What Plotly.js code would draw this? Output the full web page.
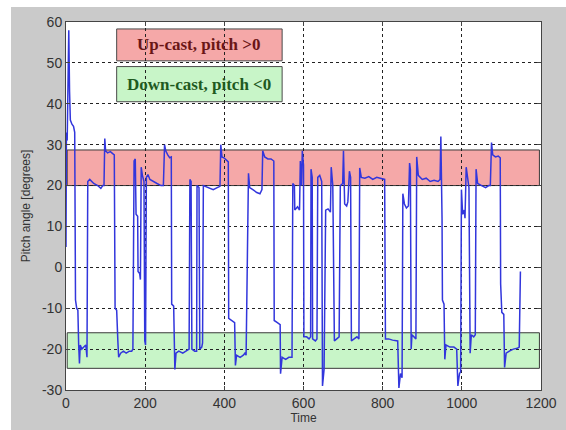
<!DOCTYPE html>
<html>
<head>
<meta charset="utf-8">
<script src="https://cdn.plot.ly/plotly-3.0.1.min.js"></script>
<style>html,body{margin:0;padding:0;background:#fff;}#chart{width:566px;height:430px;}</style>
</head>
<body>
<div id="chart"></div>
<script>
// ---- data ----
const time = [0,1,3,5,7,9,11,15,19,22,24,27,30,32,34,36,40,45,50,53,55,60,70,80,88,93,96,98,100,105,112,118,122,124,128,131,133,138,145,152,160,166,169,172,175,177,181,182,186,188,190,193,197,199,201,203,207,212,220,230,240,246,249,252,257,262,266,267,272,275,278,285,295,305,311,313,316,318,325,330,331,336,338,343,345,347,352,362,372,382,389,391,394,400,406,410,411,420,426,428,431,440,448,452,455,461,464,472,482,490,495,497,502,510,518,525,526,534,541,542,546,555,563,571,573,577,578,585,590,592,595,597,600,601,608,614,618,619,622,623,630,634,636,641,646,648,652,656,662,668,670,674,678,684,690,693,699,701,704,709,712,716,719,721,728,735,740,742,746,755,765,775,785,795,805,807,815,825,838,841,845,849,851,855,860,865,868,870,872,874,880,884,886,890,900,910,920,930,940,945,947,950,951,955,957,960,970,980,987,990,994,997,999,1002,1006,1008,1011,1015,1018,1021,1024,1030,1034,1036,1040,1050,1060,1068,1072,1075,1078,1085,1092,1097,1098,1101,1106,1108,1112,1120,1130,1140,1145,1148];
const pitch = [5,33,31,46,58,43,36,35,34.5,33,-8,-10,-10.5,-19,-23.5,-19,-20,-19.5,-19,-22,21,21.5,20.5,20,19.3,20,20,31.5,28.5,28,28.3,27.8,27.5,-10,-10.5,-18,-22,-21,-20.5,-21,-20.5,-20.5,-20,26,26.5,13,12.5,-1,-1.5,-3,24.5,22.5,21,-18,-19,22,22.7,21.5,21,20.5,20,20,30,28.5,27.5,26.8,27,-9,-9.5,-25,-21,-20.5,-21,-20.5,-20,21.5,21,-20,-20.5,-20.5,20,19.5,-20,-19.5,-18.5,20,19.8,19.5,19,19.5,19.8,30,27,26.7,26,25.8,-12.5,-13,-13.5,-24,-21.5,-22,-21.5,-21,-21.5,23,19.5,19,18.3,18,19,28.5,27,26.5,26.5,26,-13,-13.5,-14,-26,-22,-22.5,-22,-22,20.5,20,14,14.8,14,26,20,28.5,25,-17,-17,-17.5,-17,24,22,-17.5,-18,-17.5,22,22.5,21,-29,-25,14,14.3,13.5,24.5,20,-18,-17.5,-17,20,20.5,28.5,15.5,15,16,23.5,22,-18,-17.5,-17,-17.5,24.3,22,21.8,22.2,21.5,22,21.8,21.5,-17.5,-17.5,-17.8,-18,-29.5,-26,-27,18,15.5,14.5,15,25.5,24,-20,-16.5,-17,-17.5,27,22.5,21.5,21.8,21,21.3,21,21.5,32,12,-8,-9,-22.5,-19,-19.5,-19.5,-20,-29,-26,-25.5,19,13,14,12,24.5,21,19.5,-21,-16.5,-17,-16.5,24,20.5,20,19.5,20,20,30.5,27.5,27,27.2,26.8,-4,-11,-11.5,-24.5,-21,-20.5,-20,-19.8,-19.5,-1];
const upBand = [20, 28.7];
const downBand = [-24.7, -16];
const upLabel = "Up-cast, pitch >0";
const downLabel = "Down-cast, pitch <0";
const xTicks = [0,200,400,600,800,1000,1200];
const yTicks = [-30,-20,-10,0,10,20,30,40,50,60];
const xTitle = "Time";
const yTitle = "Pitch angle [degrees]";

// ---- figure ----
const trace = {
  x: time, y: pitch, type: 'scatter', mode: 'lines',
  line: {color: '#3236dc', width: 1.5},
  hoverinfo: 'skip'
};

const shapes = [
  // white strips at the picture edge
  {type:'rect', xref:'paper', yref:'paper', x0:-0.2, x1:-0.1158, y0:-0.2, y1:1.2, fillcolor:'#ffffff', line:{width:0}, layer:'below'},
  {type:'rect', xref:'paper', yref:'paper', x0:-0.2, x1:1.2, y0:1.0408, y1:1.2, fillcolor:'#ffffff', line:{width:0}, layer:'below'},
  // bands
  {type:'rect', xref:'x', yref:'y', x0:3, x1:1196, y0:upBand[0], y1:upBand[1], fillcolor:'#f5a8a8', line:{color:'#3a3a3a', width:1}, layer:'below'},
  {type:'rect', xref:'x', yref:'y', x0:3, x1:1196, y0:downBand[0], y1:downBand[1], fillcolor:'#c8f5c8', line:{color:'#3a3a3a', width:1}, layer:'below'},
  // label boxes
  {type:'rect', xref:'x', yref:'y', x0:128, x1:546, y0:50.5, y1:58.3, fillcolor:'#f5a8a8', line:{color:'#4a4a4a', width:1}, layer:'below'},
  {type:'rect', xref:'x', yref:'y', x0:128, x1:546, y0:40.5, y1:49.1, fillcolor:'#c8f5c8', line:{color:'#4a4a4a', width:1}, layer:'below'}
];

const annotations = [
  {x:337, y:54.4, xref:'x', yref:'y', text:'<b>'+upLabel+'</b>', showarrow:false,
   font:{family:'Liberation Serif, Times New Roman, serif', size:17, color:'#6a1616'}},
  {x:337, y:44.8, xref:'x', yref:'y', text:'<b>'+downLabel+'</b>', showarrow:false,
   font:{family:'Liberation Serif, Times New Roman, serif', size:17, color:'#1f5a1f'}}
];

const axisCommon = {
  showgrid:true, gridcolor:'#222222', griddash:'3px,3px', gridwidth:1,
  zeroline:false, showline:true, linecolor:'#444444', linewidth:1, mirror:'ticks',
  ticks:'inside', ticklen:4, tickcolor:'#444444',
  tickfont:{family:'Liberation Sans, Arial, sans-serif', size:14, color:'#333333'}
};

const layout = {
  width:566, height:430,
  margin:{l:66, r:25, t:22, b:40},
  paper_bgcolor:'#cacaca', plot_bgcolor:'#ffffff',
  showlegend:false,
  xaxis: Object.assign({}, axisCommon, {
    range:[0,1200], tickvals:xTicks, ticktext:xTicks.map(String),
    title:{text:xTitle, standoff:1, font:{family:'Liberation Sans, Arial, sans-serif', size:12, color:'#333333'}}
  }),
  yaxis: Object.assign({}, axisCommon, {
    range:[-30,60], tickvals:yTicks, ticktext:yTicks.map(String),
    title:{text:yTitle, standoff:8, font:{family:'Liberation Sans, Arial, sans-serif', size:12, color:'#333333'}}
  }),
  shapes: shapes,
  annotations: annotations
};

Plotly.newPlot('chart', [trace], layout, {staticPlot:true, displayModeBar:false});
</script>
</body>
</html>
